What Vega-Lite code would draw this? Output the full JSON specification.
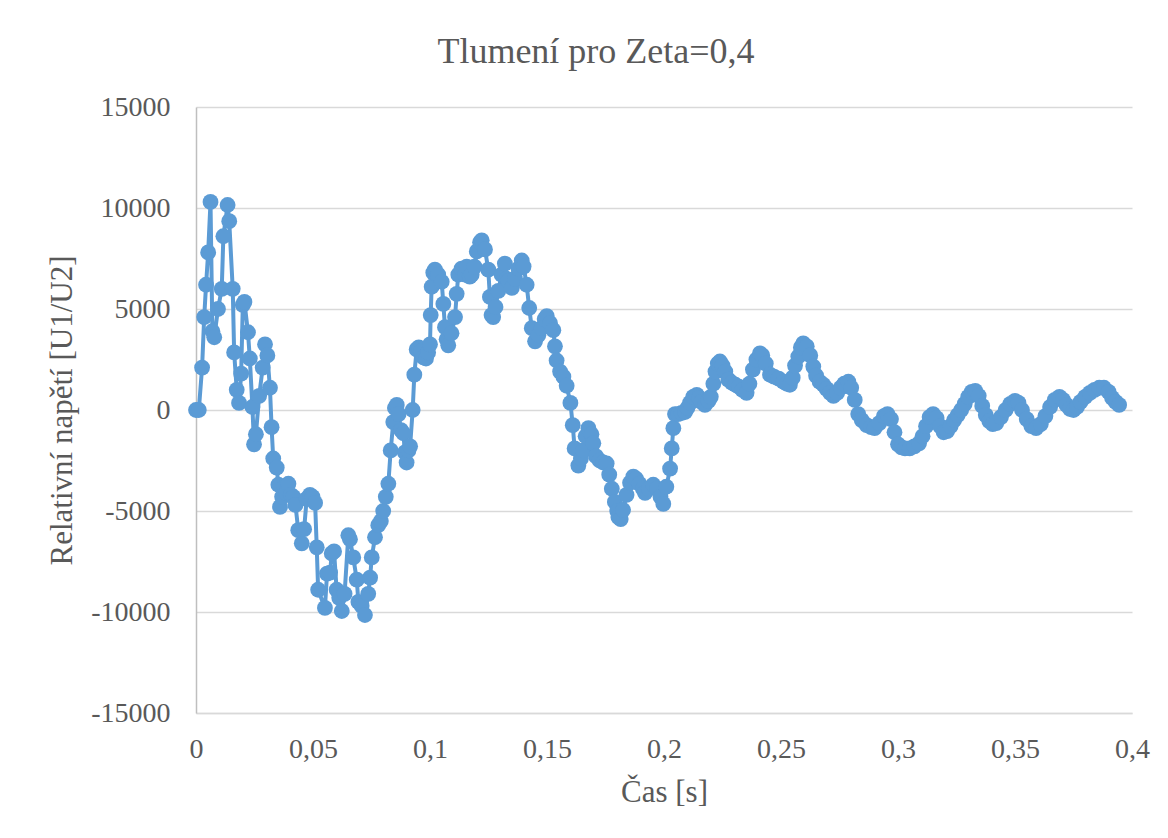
{
  "$schema": "https://vega.github.io/schema/vega-lite/v6.json",
  "width": 936,
  "height": 606,
  "autosize": {"type": "none"},
  "padding": {"left": 196, "top": 107, "right": 36, "bottom": 125},
  "background": "white",
  "title": {"text": "Tlumení pro Zeta=0,4", "font": "Liberation Serif", "fontSize": 36, "fontWeight": "normal", "color": "#595959", "anchor": "middle", "dx": -68, "offset": 22},
  "data": {"values": [
    {"t":0,"u":0},{"t":0.0012,"u":0},{"t":0.0026,"u":2100},{"t":0.0035,"u":4600},{"t":0.0043,"u":6200},{"t":0.0052,"u":7800},{"t":0.0062,"u":10300},{"t":0.0070,"u":3900},{"t":0.0078,"u":3600},{"t":0.0094,"u":5000},
    {"t":0.0110,"u":6000},{"t":0.0117,"u":8600},{"t":0.0135,"u":10150},{"t":0.0142,"u":9350},{"t":0.0157,"u":6000},{"t":0.0163,"u":2850},{"t":0.0174,"u":1000},{"t":0.0184,"u":350},{"t":0.0193,"u":1800},{"t":0.0200,"u":5200},
    {"t":0.0207,"u":5350},{"t":0.0222,"u":3850},{"t":0.0230,"u":2550},{"t":0.0241,"u":150},{"t":0.0248,"u":-1700},{"t":0.0256,"u":-1200},{"t":0.0270,"u":700},{"t":0.0285,"u":2100},{"t":0.0295,"u":3250},{"t":0.0305,"u":2700},
    {"t":0.0316,"u":1100},{"t":0.0323,"u":-850},{"t":0.0330,"u":-2400},{"t":0.0345,"u":-2850},{"t":0.0352,"u":-3700},{"t":0.0359,"u":-4800},{"t":0.0368,"u":-4300},{"t":0.0378,"u":-3800},{"t":0.0386,"u":-4100},{"t":0.0395,"u":-3650},
    {"t":0.0405,"u":-4200},{"t":0.0416,"u":-4300},{"t":0.0425,"u":-4700},{"t":0.0437,"u":-5950},{"t":0.0452,"u":-6600},{"t":0.0462,"u":-5900},{"t":0.0473,"u":-4400},{"t":0.0487,"u":-4200},{"t":0.0498,"u":-4300},{"t":0.0509,"u":-4600},
    {"t":0.0516,"u":-6800},{"t":0.0522,"u":-8900},{"t":0.0551,"u":-9800},{"t":0.0560,"u":-8100},{"t":0.0573,"u":-8050},{"t":0.0580,"u":-7100},{"t":0.0590,"u":-7000},{"t":0.0601,"u":-8900},{"t":0.0612,"u":-9300},{"t":0.0623,"u":-9950},
    {"t":0.0635,"u":-9100},{"t":0.0651,"u":-6200},{"t":0.0658,"u":-6400},{"t":0.0672,"u":-7300},{"t":0.0687,"u":-8400},{"t":0.0694,"u":-9500},{"t":0.0708,"u":-9700},{"t":0.0722,"u":-10150},{"t":0.0736,"u":-9100},{"t":0.0744,"u":-8300},
    {"t":0.0751,"u":-7300},{"t":0.0765,"u":-6300},{"t":0.0779,"u":-5700},{"t":0.0790,"u":-5500},{"t":0.0800,"u":-5000},{"t":0.0811,"u":-4300},{"t":0.0822,"u":-3650},{"t":0.0832,"u":-2000},{"t":0.0843,"u":-600},{"t":0.0850,"u":100},
    {"t":0.0858,"u":250},{"t":0.0866,"u":-200},{"t":0.0876,"u":-1000},{"t":0.0886,"u":-1150},{"t":0.0893,"u":-2100},{"t":0.0900,"u":-2600},{"t":0.0908,"u":-2000},{"t":0.0915,"u":-1800},{"t":0.0926,"u":0},{"t":0.0933,"u":1750},
    {"t":0.0943,"u":3000},{"t":0.0952,"u":3100},{"t":0.0962,"u":2900},{"t":0.0972,"u":2600},{"t":0.0983,"u":2550},{"t":0.0992,"u":2850},{"t":0.1000,"u":3250},{"t":0.1003,"u":4700},{"t":0.1007,"u":6100},{"t":0.1014,"u":6800},
    {"t":0.1021,"u":6950},{"t":0.1035,"u":6700},{"t":0.1050,"u":6350},{"t":0.1057,"u":5250},{"t":0.1064,"u":4100},{"t":0.1071,"u":3500},{"t":0.1078,"u":3200},{"t":0.1092,"u":3800},{"t":0.1107,"u":4600},{"t":0.1114,"u":5750},
    {"t":0.1121,"u":6700},{"t":0.1135,"u":7000},{"t":0.1150,"u":6700},{"t":0.1157,"u":7100},{"t":0.1170,"u":6600},{"t":0.1178,"u":6700},{"t":0.1190,"u":7100},{"t":0.1200,"u":7850},{"t":0.1214,"u":8300},{"t":0.1221,"u":8400},
    {"t":0.1235,"u":7950},{"t":0.1249,"u":6950},{"t":0.1256,"u":5600},{"t":0.1263,"u":4700},{"t":0.1270,"u":4600},{"t":0.1280,"u":5100},{"t":0.1292,"u":5900},{"t":0.1306,"u":6700},{"t":0.1320,"u":7250},{"t":0.1328,"u":6500},
    {"t":0.1335,"u":6400},{"t":0.1350,"u":6050},{"t":0.1363,"u":6500},{"t":0.1378,"u":7000},{"t":0.1392,"u":7400},{"t":0.1400,"u":7100},{"t":0.1413,"u":6200},{"t":0.1424,"u":5050},{"t":0.1435,"u":4050},{"t":0.1449,"u":3400},
    {"t":0.1463,"u":3700},{"t":0.1477,"u":4050},{"t":0.1490,"u":4500},{"t":0.1499,"u":4650},{"t":0.1513,"u":4300},{"t":0.1527,"u":3950},{"t":0.1534,"u":3150},{"t":0.1541,"u":2450},{"t":0.1556,"u":1900},{"t":0.1570,"u":1650},
    {"t":0.1584,"u":1200},{"t":0.1600,"u":350},{"t":0.1610,"u":-750},{"t":0.1618,"u":-1900},{"t":0.1634,"u":-2750},{"t":0.1645,"u":-2400},{"t":0.1655,"u":-2000},{"t":0.1665,"u":-1300},{"t":0.1677,"u":-900},{"t":0.1690,"u":-1200},
    {"t":0.1698,"u":-1650},{"t":0.1710,"u":-2300},{"t":0.1725,"u":-2500},{"t":0.1740,"u":-2600},{"t":0.1755,"u":-2650},{"t":0.1766,"u":-3200},{"t":0.1777,"u":-3900},{"t":0.1790,"u":-4550},{"t":0.1800,"u":-5000},{"t":0.1805,"u":-5300},
    {"t":0.1815,"u":-5400},{"t":0.1825,"u":-4950},{"t":0.1840,"u":-4200},{"t":0.1855,"u":-3600},{"t":0.1869,"u":-3300},{"t":0.1880,"u":-3400},{"t":0.1895,"u":-3650},{"t":0.1910,"u":-3900},{"t":0.1919,"u":-4100},{"t":0.1935,"u":-3900},
    {"t":0.1954,"u":-3700},{"t":0.1970,"u":-3900},{"t":0.1985,"u":-4300},{"t":0.1997,"u":-4650},{"t":0.2010,"u":-3800},{"t":0.2026,"u":-2900},{"t":0.2033,"u":-1900},{"t":0.2040,"u":-900},{"t":0.2047,"u":-200},{"t":0.2060,"u":-200},
    {"t":0.2075,"u":-150},{"t":0.2090,"u":-100},{"t":0.2100,"u":100},{"t":0.2111,"u":350},{"t":0.2125,"u":650},{"t":0.2140,"u":750},{"t":0.2150,"u":600},{"t":0.2160,"u":400},{"t":0.2175,"u":250},{"t":0.2190,"u":450},
    {"t":0.2200,"u":650},{"t":0.2211,"u":1300},{"t":0.2220,"u":1900},{"t":0.2230,"u":2300},{"t":0.2239,"u":2400},{"t":0.2250,"u":2200},{"t":0.2262,"u":1900},{"t":0.2275,"u":1500},{"t":0.2290,"u":1350},{"t":0.2305,"u":1250},
    {"t":0.2320,"u":1150},{"t":0.2335,"u":1000},{"t":0.2353,"u":850},{"t":0.2365,"u":1300},{"t":0.2380,"u":2000},{"t":0.2395,"u":2500},{"t":0.2410,"u":2800},{"t":0.2420,"u":2700},{"t":0.2435,"u":2300},{"t":0.2453,"u":1750},
    {"t":0.2470,"u":1650},{"t":0.2490,"u":1550},{"t":0.2510,"u":1400},{"t":0.2525,"u":1300},{"t":0.2538,"u":1250},{"t":0.2550,"u":1600},{"t":0.2560,"u":2200},{"t":0.2574,"u":2650},{"t":0.2585,"u":3100},{"t":0.2595,"u":3300},
    {"t":0.2610,"u":3150},{"t":0.2625,"u":2700},{"t":0.2638,"u":2150},{"t":0.2650,"u":1700},{"t":0.2665,"u":1400},{"t":0.2681,"u":1250},{"t":0.2695,"u":1050},{"t":0.2710,"u":850},{"t":0.2724,"u":700},{"t":0.2740,"u":850},
    {"t":0.2755,"u":1100},{"t":0.2770,"u":1300},{"t":0.2788,"u":1400},{"t":0.2800,"u":1100},{"t":0.2815,"u":500},{"t":0.2830,"u":-200},{"t":0.2845,"u":-500},{"t":0.2866,"u":-750},{"t":0.2885,"u":-850},{"t":0.2900,"u":-900},
    {"t":0.2920,"u":-650},{"t":0.2940,"u":-300},{"t":0.2955,"u":-200},{"t":0.2970,"u":-450},{"t":0.2985,"u":-1100},{"t":0.3000,"u":-1700},{"t":0.3015,"u":-1850},{"t":0.3030,"u":-1900},{"t":0.3050,"u":-1900},{"t":0.3070,"u":-1800},
    {"t":0.3090,"u":-1650},{"t":0.3105,"u":-1300},{"t":0.3120,"u":-800},{"t":0.3135,"u":-350},{"t":0.3150,"u":-200},{"t":0.3165,"u":-400},{"t":0.3180,"u":-800},{"t":0.3195,"u":-1100},{"t":0.3210,"u":-1050},{"t":0.3225,"u":-800},
    {"t":0.3240,"u":-500},{"t":0.3255,"u":-250},{"t":0.3270,"u":0},{"t":0.3285,"u":300},{"t":0.3300,"u":650},{"t":0.3315,"u":900},{"t":0.3330,"u":950},{"t":0.3345,"u":700},{"t":0.3360,"u":200},{"t":0.3375,"u":-250},
    {"t":0.3390,"u":-550},{"t":0.3405,"u":-700},{"t":0.3420,"u":-650},{"t":0.3440,"u":-350},{"t":0.3460,"u":0},{"t":0.3480,"u":300},{"t":0.3500,"u":450},{"t":0.3515,"u":350},{"t":0.3530,"u":0},{"t":0.3550,"u":-450},
    {"t":0.3570,"u":-800},{"t":0.3590,"u":-900},{"t":0.3610,"u":-700},{"t":0.3630,"u":-300},{"t":0.3650,"u":150},{"t":0.3670,"u":500},{"t":0.3690,"u":650},{"t":0.3705,"u":500},{"t":0.3720,"u":250},{"t":0.3735,"u":50},
    {"t":0.3750,"u":0},{"t":0.3765,"u":150},{"t":0.3780,"u":400},{"t":0.3800,"u":650},{"t":0.3820,"u":850},{"t":0.3840,"u":1000},{"t":0.3860,"u":1100},{"t":0.3880,"u":1100},{"t":0.3900,"u":900},{"t":0.3915,"u":600},
    {"t":0.3930,"u":400},{"t":0.3945,"u":250}
  ]},
  "encoding": {
    "x": {"field": "t", "type": "quantitative", "scale": {"domain": [0, 0.4], "nice": false, "zero": false},
      "axis": {"values": [0, 0.05, 0.1, 0.15, 0.2, 0.25, 0.3, 0.35, 0.4], "labelExpr": "replace(format(datum.value, '.2~f'), '.', ',')", "title": "Čas [s]", "grid": false, "ticks": false, "domainColor": "#D9D9D9", "domainWidth": 1.5, "labelPadding": 22, "titlePadding": 14, "labelFlush": false}},
    "y": {"field": "u", "type": "quantitative", "scale": {"domain": [-15000, 15000], "nice": false},
      "axis": {"values": [-15000, -10000, -5000, 0, 5000, 10000, 15000], "labelExpr": "'' + datum.value", "title": "Relativní napětí [U1/U2]", "gridColor": "#D9D9D9", "gridWidth": 1.5, "ticks": false, "domainColor": "#BFBFBF", "domainWidth": 1.5, "labelPadding": 26, "titlePadding": 12}}
  },
  "layer": [
    {"mark": {"type": "line", "color": "#5B9BD5", "strokeWidth": 4}},
    {"mark": {"type": "point", "filled": true, "shape": "circle", "size": 250, "color": "#5B9BD5", "opacity": 1}}
  ],
  "config": {
    "view": {"stroke": null},
    "axis": {"labelFont": "Liberation Serif", "labelFontSize": 28, "labelColor": "#595959", "titleFont": "Liberation Serif", "titleFontSize": 31, "titleFontWeight": "normal", "titleColor": "#595959"}
  }
}
